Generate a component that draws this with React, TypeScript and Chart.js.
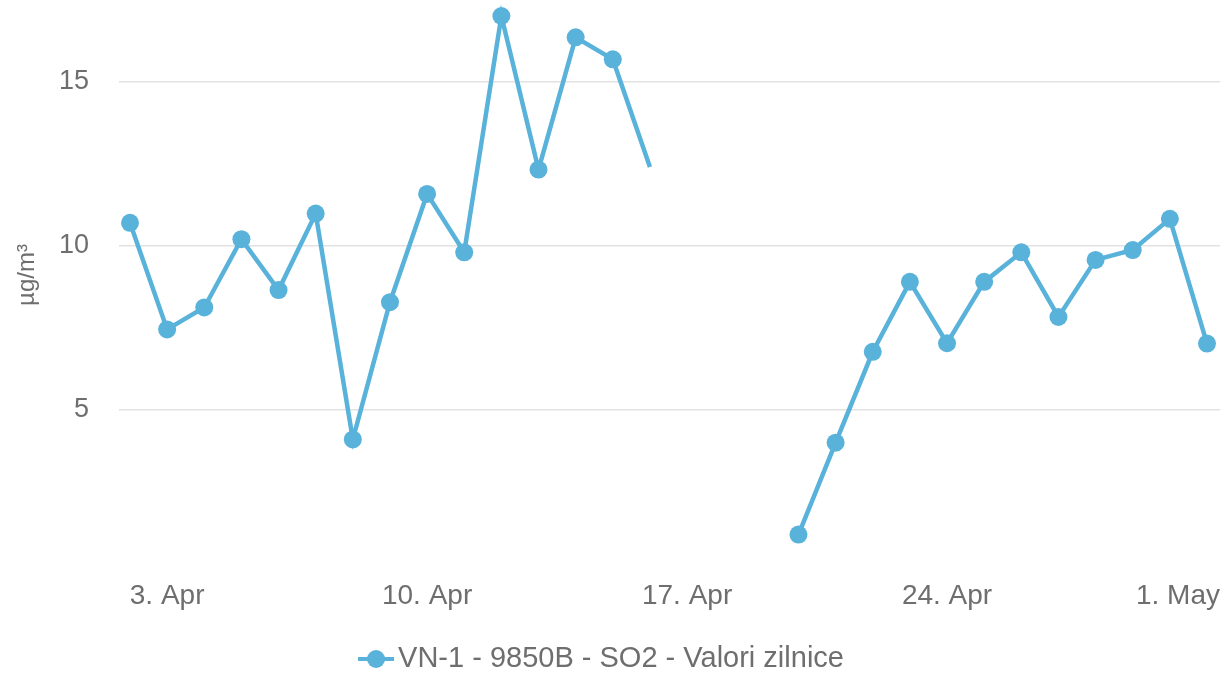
import { useEffect, useRef } from 'react';
import { Chart, registerables } from 'chart.js';

Chart.register(...registerables);

// Daily values, 2. Apr .. 1. May (index 0 = 2. Apr)
const dayLabels = [
  '2. Apr', '3. Apr', '4. Apr', '5. Apr', '6. Apr', '7. Apr', '8. Apr', '9. Apr', '10. Apr', '11. Apr',
  '12. Apr', '13. Apr', '14. Apr', '15. Apr', '16. Apr', '17. Apr', '18. Apr', '19. Apr', '20. Apr', '21. Apr',
  '22. Apr', '23. Apr', '24. Apr', '25. Apr', '26. Apr', '27. Apr', '28. Apr', '29. Apr', '30. Apr', '1. May',
];
const so2Values: (number | null)[] = [
  10.7, 7.45, 8.12, 10.2, 8.65, 10.98, 4.1, 8.28, 11.58, 9.8,
  17.0, 12.32, 16.35, 15.68, 12.4, null, null, null, 1.2, 4.0,
  6.77, 8.9, 7.03, 8.9, 9.8, 7.83, 9.57, 9.87, 10.82, 7.02,
];
const hiddenMarkerIndex = [14];
const yTickValues = [5, 10, 15];
const xTickIndex = [1, 8, 15, 22, 29];
const xTickLabels = ['3. Apr', '10. Apr', '17. Apr', '24. Apr', '1. May'];
const seriesName = 'VN-1 - 9850B - SO2 - Valori zilnice';
const unitLabel = 'µg/m³';

const FONT = '"Liberation Sans", Arial, Helvetica, sans-serif';
const TEXT = '#6e6e6e';
const LINE = '#58b2da';

const textPlugin = {
  id: 'textPlugin',
  afterDraw(chart: any) {
    const ctx = chart.ctx as CanvasRenderingContext2D;
    const xs = chart.scales.x;
    const W = chart.width;
    ctx.save();
    // x-axis labels
    ctx.font = `28px ${FONT}`;
    ctx.fillStyle = TEXT;
    ctx.textBaseline = 'middle';
    xTickIndex.forEach((idx, i) => {
      const label = xTickLabels[i];
      const px = xs.getPixelForValue(idx);
      const w = ctx.measureText(label).width;
      let left = px - w / 2;
      if (left + w > W - 4) left = W - 4 - w;
      ctx.textAlign = 'left';
      ctx.fillText(label, left, 596);
    });
    // y-axis title
    ctx.save();
    ctx.translate(27, 275);
    ctx.rotate(-Math.PI / 2);
    ctx.font = `24px ${FONT}`;
    ctx.textAlign = 'center';
    ctx.textBaseline = 'middle';
    ctx.fillText(unitLabel, 0, 0);
    ctx.restore();
    // legend
    const ds = chart.data.datasets[0];
    ctx.font = `29px ${FONT}`;
    const tw = ctx.measureText(ds.label).width;
    const symW = 36;
    const gap = 4;
    const total = symW + gap + tw;
    const start = 601 - total / 2;
    const ly = 659;
    ctx.strokeStyle = LINE;
    ctx.lineWidth = 4;
    ctx.beginPath();
    ctx.moveTo(start, ly);
    ctx.lineTo(start + symW, ly);
    ctx.stroke();
    ctx.fillStyle = LINE;
    ctx.beginPath();
    ctx.arc(start + symW / 2, ly, 9, 0, Math.PI * 2);
    ctx.fill();
    ctx.fillStyle = TEXT;
    ctx.textAlign = 'left';
    ctx.textBaseline = 'middle';
    ctx.fillText(ds.label, start + symW + gap, ly);
    ctx.restore();
  },
};

export default function App() {
  const ref = useRef<HTMLCanvasElement | null>(null);

  useEffect(() => {
    document.body.style.margin = '0';
    if (!ref.current) return;
    const points = so2Values.map((v, i) => ({ x: i, y: v }));
    const radii = so2Values.map((_, i) => (hiddenMarkerIndex.includes(i) ? 0 : 9));
    const chart = new Chart(ref.current, {
      type: 'line',
      data: {
        labels: dayLabels,
        datasets: [
          {
            label: seriesName,
            data: points as any,
            borderColor: LINE,
            backgroundColor: LINE,
            borderWidth: 4.5,
            pointRadius: radii,
            pointHoverRadius: radii,
            pointBorderWidth: 0,
            pointBackgroundColor: LINE,
            tension: 0,
            spanGaps: false,
            clip: false as any,
          },
        ],
      },
      options: {
        animation: false,
        responsive: false,
        events: [],
        layout: { autoPadding: false, padding: { top: 16, right: 4, left: 0, bottom: 0 } },
        plugins: {
          legend: { display: false },
          tooltip: { enabled: false },
        },
        scales: {
          x: {
            type: 'linear',
            min: -0.296,
            max: 29.35,
            grid: { display: false },
            border: { display: false },
            ticks: { display: false },
            afterFit(s: any) {
              s.height = 101;
              s.paddingLeft = 0;
              s.paddingRight = 0;
            },
          },
          y: {
            min: 0,
            max: 17,
            afterBuildTicks(s: any) {
              s.ticks = yTickValues.map((v) => ({ value: v }));
            },
            grid: { color: '#e2e2e2', lineWidth: 1.5, drawTicks: false },
            border: { display: false },
            ticks: { padding: 30, color: TEXT, font: { family: FONT, size: 27 } },
            afterFit(s: any) {
              s.width = 119;
              s.paddingTop = 0;
              s.paddingBottom = 0;
            },
          },
        },
      },
      plugins: [textPlugin],
    });
    return () => chart.destroy();
  }, []);

  return (
    <div style={{ width: 1224, height: 675 }}>
      <canvas ref={ref} width={1224} height={675} style={{ display: 'block', width: 1224, height: 675 }} />
    </div>
  );
}
